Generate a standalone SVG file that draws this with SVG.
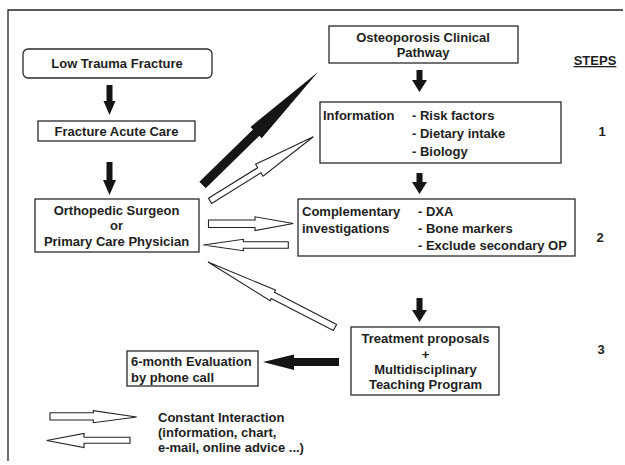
<svg xmlns="http://www.w3.org/2000/svg" width="625" height="465" viewBox="0 0 625 465">
<style>
.t{font-family:"Liberation Sans",Arial,Helvetica,sans-serif;font-weight:bold;font-size:13px;fill:#1e1e1e}
.c{text-anchor:middle}
.box{fill:#fff;stroke:#2a2a2a;stroke-width:1.3}
.blk{fill:#151515;stroke:none}
.hol{fill:#fff;stroke:#222;stroke-width:1.1;stroke-linejoin:miter}
</style>
<rect width="625" height="465" fill="#fff"/>
<g id="frame"><path d="M8,461 V10 H623" fill="none" stroke="#222" stroke-width="1.3"/></g>

<g id="n-low-trauma"><rect class="box" x="23" y="49" width="189" height="29" rx="5"/><text class="t c" x="117" y="68">Low Trauma Fracture</text></g>
<g id="n-acute-care"><rect class="box" x="38" y="121" width="157" height="20"/><text class="t c" x="116.5" y="135.5">Fracture Acute Care</text></g>
<g id="n-ortho"><rect class="box" x="35" y="199" width="164" height="53"/><text class="t c" x="116.5" y="214.5">Orthopedic Surgeon</text><text class="t c" x="116.5" y="230">or</text><text class="t c" x="116.5" y="245.5">Primary Care Physician</text></g>
<g id="n-osteo"><rect class="box" x="329" y="26" width="189" height="37"/><text class="t c" x="423" y="42">Osteoporosis Clinical</text><text class="t c" x="423" y="56.5">Pathway</text></g>
<g id="n-info"><rect class="box" x="320" y="102" width="241" height="61"/><text class="t" x="323" y="120">Information</text><text class="t" x="412" y="120">- Risk factors</text><text class="t" x="412" y="138">- Dietary intake</text><text class="t" x="412" y="156">- Biology</text></g>
<g id="n-comp"><rect class="box" x="298" y="199" width="277" height="57"/><text class="t" x="302" y="216">Complementary</text><text class="t" x="302" y="233">investigations</text><text class="t" x="418" y="216">- DXA</text><text class="t" x="418" y="233">- Bone markers</text><text class="t" x="418" y="250">- Exclude secondary OP</text></g>
<g id="n-treat"><rect class="box" x="351" y="327" width="148" height="68"/><text class="t c" x="425.5" y="343">Treatment proposals</text><text class="t c" x="425.5" y="358.5">+</text><text class="t c" x="425.5" y="374">Multidisciplinary</text><text class="t c" x="425.5" y="389">Teaching Program</text></g>
<g id="n-eval"><rect class="box" x="127" y="351" width="131" height="35"/><text class="t" x="131" y="366">6-month Evaluation</text><text class="t" x="131" y="382">by phone call</text></g>
<g id="steps"><text class="t c" x="595" y="65" text-decoration="underline">STEPS</text><text class="t c" x="602" y="135.5">1</text><text class="t c" x="600" y="242">2</text><text class="t c" x="601" y="354">3</text></g>

<g id="connectors">
<polygon class="blk" points="106.5,85 112.5,85 112.5,101 115.5,101 109.5,115 103.5,101 106.5,101"/>
<polygon class="blk" points="106.5,162 112.5,162 112.5,180 116,180 109.5,195 103,180 106.5,180"/>
<polygon class="blk" points="416.5,70 422.5,70 422.5,80 427,80 419.5,92 412,80 416.5,80"/>
<polygon class="blk" points="416.5,173 422.5,173 422.5,182 427,182 419.5,194 412,182 416.5,182"/>
<polygon class="blk" points="416.5,298 422.5,298 422.5,310 427,310 419.5,322 412,310 416.5,310"/>
<polygon class="blk" points="339,358 294,358 294,354.5 263,362 294,370 294,366 339,366"/>
<polygon class="blk" points="199.4,181.8 253,129.4 250.5,126.9 318,72 261.7,138.3 259.3,135.8 205.7,188.2"/>
<polygon class="hol" points="208.4,198.3 257.7,167.7 255.6,164.3 313.3,136.7 263,176.2 260.9,172.8 211.6,203.4"/>
<polygon class="hol" points="336.6,324.4 274.4,292.3 275.5,290.1 208,262 270.1,300.7 271.2,298.5 333.4,330.6"/>
<polygon class="hol" points="208.5,220 255,220 255,216.8 293.3,223.5 255,230.6 255,227.5 208.5,227.5"/>
<polygon class="hol" points="288.3,241.8 243.3,241.8 243.3,239.3 203.3,245 243.3,250.7 243.3,248.3 288.3,248.3"/>
</g>

<g id="legend">
<polygon class="hol" points="50,412.7 93.3,412.7 93.3,410.7 136.7,417 93.3,422.7 93.3,420 50,420"/>
<polygon class="hol" points="130,437.3 84,437.3 84,433.5 46.7,440.5 84,447.5 84,443.3 130,443.3"/>
<text class="t" x="158" y="422">Constant Interaction</text>
<text class="t" x="158" y="437">(information, chart,</text>
<text class="t" x="158" y="452">e-mail, online advice ...)</text>
</g>
</svg>
